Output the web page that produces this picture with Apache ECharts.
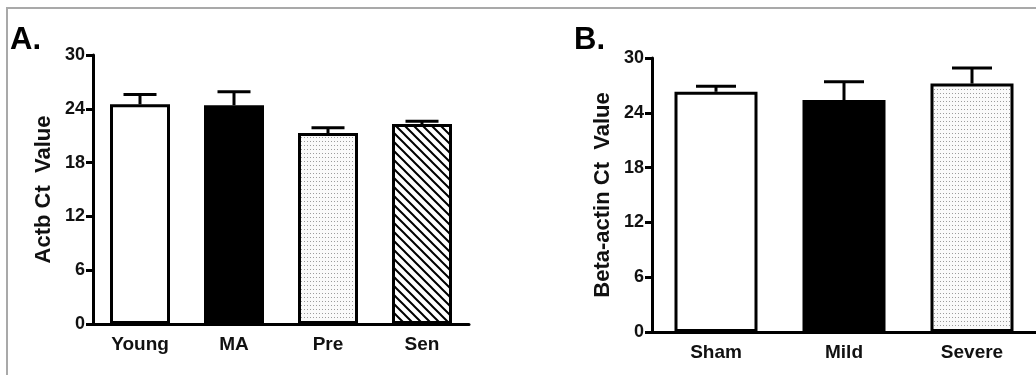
<!DOCTYPE html>
<html>
<head>
<meta charset="UTF-8">
<title>Ct values</title>
<script src="https://cdn.jsdelivr.net/npm/echarts@6/dist/echarts.min.js"></script>
<style>
  html, body { margin: 0; padding: 0; background: #fff; }
</style>
</head>
<body>
<div id="chart" style="width:1036px;height:375px"></div>
<script>
// panel A
const catsA = ['Young', 'MA', 'Pre', 'Sen'];
const meanA = [24.5, 24.4, 21.3, 22.3];
const errA = [1.1, 1.5, 0.6, 0.3];
// panel B
const catsB = ['Sham', 'Mild', 'Severe'];
const meanB = [26.3, 25.4, 27.2];
const errB = [0.6, 2.0, 1.7];
// shared y scale
const yMin = 0, yMax = 30, yStep = 6;

const FONT = '"Liberation Sans", Arial, sans-serif';

// fill patterns
function dotPattern() {
  const c = document.createElement('canvas');
  c.width = 3; c.height = 4;
  const g = c.getContext('2d');
  g.fillStyle = '#fafafa';
  g.fillRect(0, 0, 3, 4);
  g.fillStyle = '#9c9c9c';
  g.fillRect(1, 1, 1, 1);
  return { image: c, repeat: 'repeat' };
}
function hatchPattern() {
  const s = 9;
  const c = document.createElement('canvas');
  c.width = s; c.height = s;
  const g = c.getContext('2d');
  g.fillStyle = '#fff';
  g.fillRect(0, 0, s, s);
  g.strokeStyle = '#000';
  g.lineWidth = 2;
  g.beginPath();
  g.moveTo(-2, -2); g.lineTo(s + 2, s + 2);
  g.moveTo(-2, s - 2); g.lineTo(2, s + 2);
  g.moveTo(s - 2, -2); g.lineTo(s + 2, 2);
  g.stroke();
  return { image: c, repeat: 'repeat' };
}

const fillsA = ['#fff', '#000', dotPattern(), hatchPattern()];
const fillsB = ['#fff', '#000', dotPattern()];

function barData(vals, fills) {
  return vals.map((v, i) => ({ value: v, itemStyle: { color: fills[i] } }));
}
function errData(vals, errs) {
  return vals.map((v, i) => [i, v, v + errs[i]]);
}
function errRenderer(capW) {
  return function (params, api) {
    const base = api.coord([api.value(0), api.value(1)]);
    const top = api.coord([api.value(0), api.value(2)]);
    const st = { stroke: '#000', lineWidth: 3, fill: null };
    return {
      type: 'group',
      children: [
        { type: 'line', shape: { x1: top[0], y1: base[1], x2: top[0], y2: top[1] }, style: st },
        { type: 'line', shape: { x1: top[0] - capW / 2, y1: top[1], x2: top[0] + capW / 2, y2: top[1] }, style: st }
      ]
    };
  };
}

function xAx(cats, idx) {
  return {
    type: 'category', gridIndex: idx, data: cats,
    axisLine: { lineStyle: { color: '#000', width: 3 } },
    axisTick: { alignWithLabel: true, length: 8, lineStyle: { width: 3, color: '#000' } },
    axisLabel: { color: '#111', fontFamily: FONT, fontWeight: 'bold', fontSize: 19, margin: 11 }
  };
}
function yAx(name, idx) {
  return {
    type: 'value', gridIndex: idx, min: yMin, max: yMax, interval: yStep,
    name: name, nameLocation: 'middle', nameRotate: 90, nameGap: 38,
    nameTextStyle: { color: '#111', fontFamily: FONT, fontWeight: 'bold', fontSize: 22 },
    splitLine: { show: false },
    axisLine: { show: true, lineStyle: { color: '#000', width: 3 } },
    axisTick: { show: true, length: 7, lineStyle: { width: 3, color: '#000' } },
    axisLabel: { color: '#111', fontFamily: FONT, fontWeight: 'bold', fontSize: 18, margin: 8 }
  };
}

const chart = echarts.init(document.getElementById('chart'));
chart.setOption({
  animation: false,
  backgroundColor: '#fff',
  grid: [
    { left: 93, top: 55, width: 376, height: 269 },
    { left: 652, top: 58, width: 384, height: 274 }
  ],
  xAxis: [xAx(catsA, 0), xAx(catsB, 1)],
  yAxis: [yAx('Actb Ct  Value', 0), yAx('Beta-actin Ct  Value', 1)],
  graphic: [
    { type: 'polyline', shape: { points: [[7, 375], [7, 8], [1036, 8]] }, style: { stroke: '#a9a9a9', lineWidth: 2, fill: null }, silent: true },
    { type: 'text', left: 10, top: 25, style: { text: 'A.', font: 'bold 31px ' + FONT, fill: '#000' } },
    { type: 'text', left: 574, top: 25, style: { text: 'B.', font: 'bold 31px ' + FONT, fill: '#000' } }
  ],
  series: [
    { type: 'bar', xAxisIndex: 0, yAxisIndex: 0, barWidth: 60, data: barData(meanA, fillsA),
      itemStyle: { borderColor: '#000', borderWidth: 3 } },
    { type: 'custom', xAxisIndex: 0, yAxisIndex: 0, renderItem: errRenderer(33),
      encode: { x: 0, y: [1, 2] }, data: errData(meanA, errA), z: 3 },
    { type: 'bar', xAxisIndex: 1, yAxisIndex: 1, barWidth: 83, data: barData(meanB, fillsB),
      itemStyle: { borderColor: '#000', borderWidth: 3 } },
    { type: 'custom', xAxisIndex: 1, yAxisIndex: 1, renderItem: errRenderer(40),
      encode: { x: 0, y: [1, 2] }, data: errData(meanB, errB), z: 3 }
  ]
});
</script>
</body>
</html>
